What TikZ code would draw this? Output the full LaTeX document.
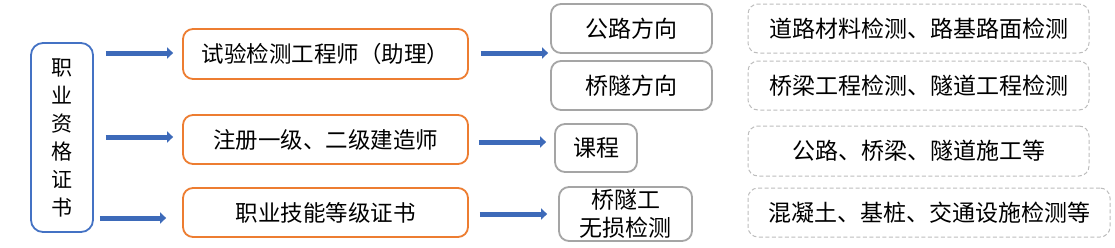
\documentclass[tikz,border=0pt]{standalone}
\usepackage{fontspec}
\setmainfont{Noto Sans CJK SC}
\usetikzlibrary{arrows.meta,calc}
\definecolor{cblue}{HTML}{4472C4}
\definecolor{carrow}{HTML}{3D6AB9}
\definecolor{corange}{HTML}{ED7D31}
\definecolor{cgrey}{HTML}{A5A5A5}
\definecolor{cdash}{HTML}{BDBDBD}
\begin{document}
\begin{tikzpicture}[x=1pt,y=-1pt,
  bx/.style={rounded corners=10pt,inner sep=0pt,align=center,text=black},
  leftbox/.style={bx,draw=cblue,line width=1.8pt,rounded corners=12pt,font=\fontsize{21}{28}\selectfont},
  orbox/.style={bx,draw=corange,line width=1.8pt,font=\fontsize{22.5}{28}\selectfont},
  grbox/.style={bx,draw=cgrey,line width=1.8pt,font=\fontsize{23}{28}\selectfont},
  dbox/.style={bx,draw=cdash,line width=1pt,dash pattern=on 4pt off 2.5pt,font=\fontsize{23}{28}\selectfont},
  arr/.style={draw=carrow,line width=5pt,-{Triangle[width=11pt,length=6pt]}}]
\useasboundingbox (0,0) rectangle (1115,247);
\fill[white] (0,0) rectangle (1115,247);
% left box
\node[leftbox,minimum width=62pt,minimum height=189pt] (L) at (62,137.5) {职\\业\\资\\格\\证\\书};
% orange boxes
\node[orbox,minimum width=285pt,minimum height=50pt] (O1) at (325.5,54) {试验检测工程师（助理）};
\node[orbox,minimum width=285pt,minimum height=49pt] (O2) at (325.5,139.5) {注册一级、二级建造师};
\node[orbox,minimum width=285pt,minimum height=49pt] (O3) at (325.5,212.5) {职业技能等级证书};
% grey boxes
\node[grbox,minimum width=161pt,minimum height=49pt] (P1) at (631.5,28.5) {公路方向};
\node[grbox,minimum width=161pt,minimum height=49pt] (P2) at (631.5,85.5) {桥隧方向};
\node[grbox,minimum width=82pt,minimum height=48pt] (K) at (596,148) {课程};
\node[grbox,minimum width=133pt,minimum height=54pt] (Q) at (625.5,214) {桥隧工\\无损检测};
% dashed boxes
\node[dbox,minimum width=341pt,minimum height=49pt] (D1) at (918.5,28.5) {道路材料检测、路基路面检测};
\node[dbox,minimum width=341pt,minimum height=49pt] (D2) at (918.5,85.5) {桥梁工程检测、隧道工程检测};
\node[dbox,minimum width=341pt,minimum height=50pt] (D3) at (918.5,151) {公路、桥梁、隧道施工等};
\node[dbox,minimum width=362pt,minimum height=49pt] (D4) at (929,212.5) {混凝土、基桩、交通设施检测等};
% left arrows
\draw[arr] ([xshift=12pt,yshift=1pt]L.east |- O1.west) -- ([xshift=-9pt,yshift=1pt]O1.west);
\draw[arr] ([xshift=12pt,yshift=2.5pt]L.east |- O2.west) -- ([xshift=-9pt,yshift=2.5pt]O2.west);
\draw[arr] ([xshift=6pt,yshift=-5.5pt]L.east |- O3.west) -- ([xshift=-16pt,yshift=-5.5pt]O3.west);
% right arrows
\draw[arr] ([xshift=12pt,yshift=1pt]O1.east) -- ([xshift=-2pt,yshift=1pt]P1.west |- O1.east);
\draw[arr] ([xshift=10pt,yshift=-2.5pt]O2.east) -- ([xshift=-8pt,yshift=-2.5pt]K.west |- O2.east);
\draw[arr] ([xshift=11pt,yshift=-1.5pt]O3.east) -- ([xshift=-11pt,yshift=-1.5pt]Q.west |- O3.east);
\end{tikzpicture}
\end{document}
